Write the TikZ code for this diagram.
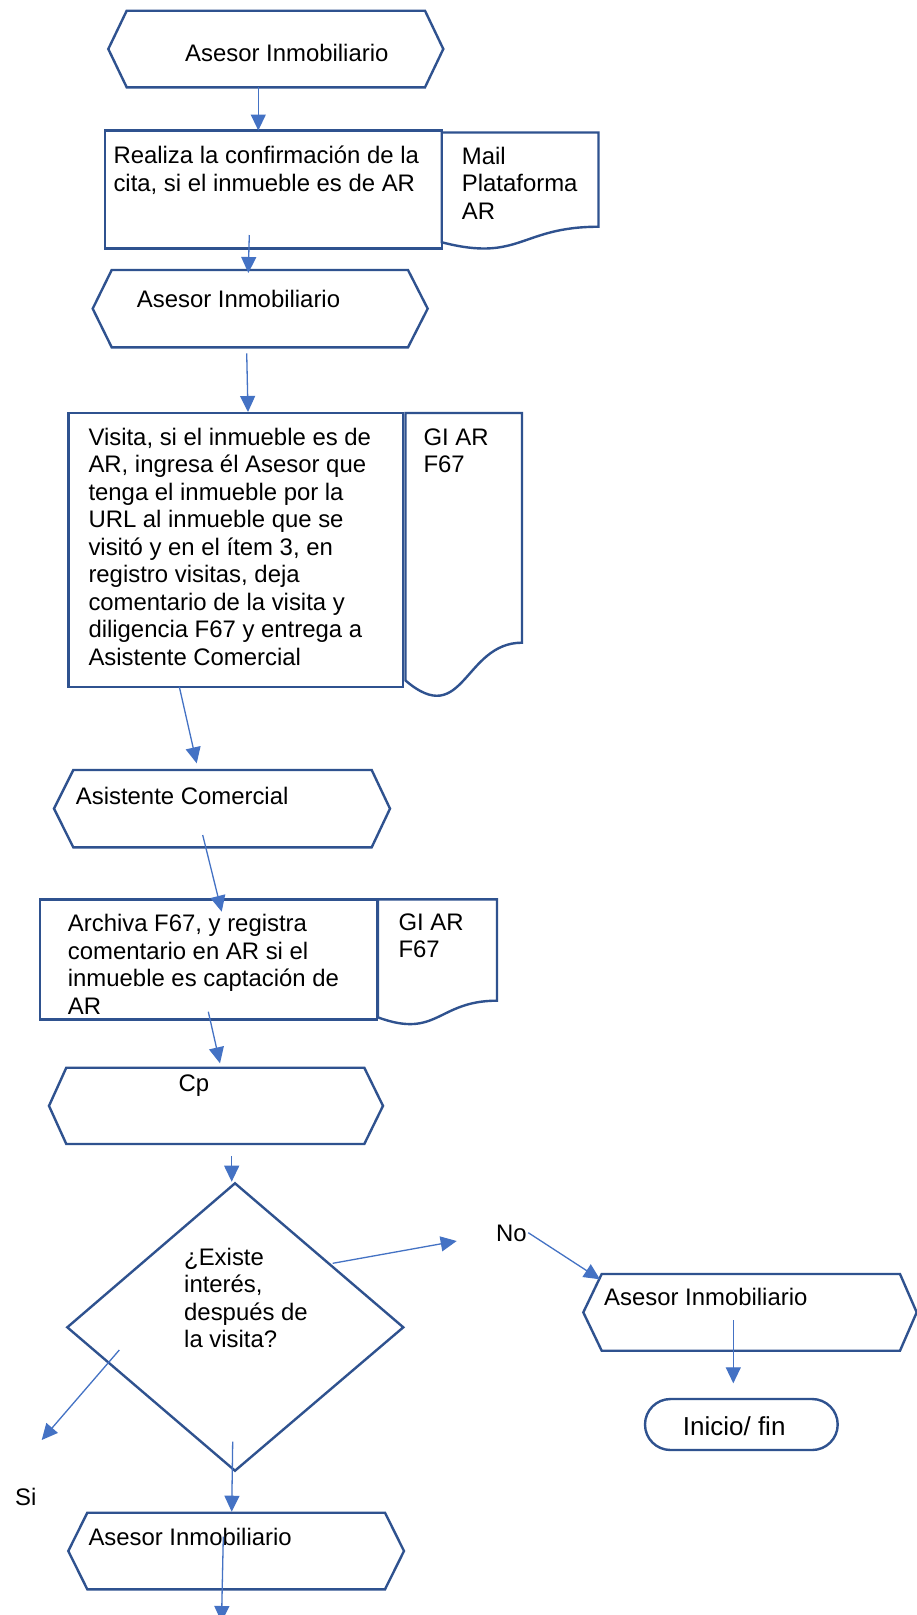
\documentclass[tikz,border=0pt]{standalone}
\usepackage{fontspec}
\setmainfont{Liberation Sans}
\usetikzlibrary{arrows.meta}
\definecolor{shapeblue}{HTML}{2F528F}
\definecolor{arrowblue}{HTML}{4472C4}

% document symbol: left x, right x, top y, nominal height
\newcommand\docshape[4]{%
  \draw[shp] (#1,#3) -- (#2,#3) -- (#2,{#3+0.802*#4})
    .. controls ({(#1+#2)/2},{#3+0.802*#4}) and ({(#1+#2)/2},{#3+1.1075*#4}) ..
    (#1,{#3+0.934*#4}) -- cycle;}
% preparation hexagon: left tip, left corner, right corner, right tip, top, bottom
\newcommand\hexshape[6]{%
  \draw[shp] (#1,{(#5+#6)/2}) -- (#2,#5) -- (#3,#5) -- (#4,{(#5+#6)/2})
    -- (#3,#6) -- (#2,#6) -- cycle;}
% left-aligned lines, baseline on the first line
\newcommand\txtlines[1]{\vtop{\halign{##\hfil\cr#1\crcr}}}

\begin{document}
\begin{tikzpicture}[x=1pt,y=-1pt,line join=miter,
  shp/.style={draw=shapeblue,line width=2.4pt},
  arr/.style={draw=arrowblue,line width=1.3pt,-{Triangle[length=16pt,width=15pt]}},
  lbl/.style={anchor=base west,inner sep=0pt,font=\fontsize{23.9}{27.5}\selectfont}]

\fill[white] (0,0) rectangle (917,1615);
\useasboundingbox (0,0) rectangle (917,1615);

% ---- shapes ----
\hexshape{108.3}{126.7}{425}{443.3}{10.7}{87.3}
\draw[shp] (105,130.5) rectangle (441.7,248.5);
\docshape{441.7}{598.5}{132.5}{117.5}
\hexshape{92.7}{111.7}{408}{427.7}{270}{347.3}
\draw[shp] (68.5,413) rectangle (402.7,687);
\docshape{405.5}{522}{413}{286.4}
\hexshape{54}{73.3}{371.7}{390}{770}{847.3}
\draw[shp] (40,899.3) rectangle (376.7,1019.3);
\docshape{378}{497}{899.3}{126.4}
\hexshape{49}{66.3}{364.3}{383}{1067.7}{1144}
\draw[shp] (235,1183.3) -- (403.3,1327.3) -- (235,1470.7) -- (67.3,1327.3) -- cycle;
\hexshape{583.3}{601.7}{900}{916.7}{1274}{1350.7}
\draw[shp,rounded corners=25.5pt] (645,1399) rectangle (837.7,1450);
\hexshape{68.3}{87.3}{385}{404}{1512.7}{1589.3}

% ---- texts ----
\node[lbl] (tA1) at (185,61) {Asesor Inmobiliario};
\node[lbl] (tR) at (113.3,163.5) {\txtlines{Realiza la confirmación de la\cr cita, si el inmueble es de AR}};
\node[lbl] (tM) at (461.7,164) {\txtlines{Mail\cr Plataforma\cr AR}};
\node[lbl] (tA2) at (136.7,307.7) {Asesor Inmobiliario};
\node[lbl] (tV) at (88.3,445) {\txtlines{Visita, si el inmueble es de\cr AR, ingresa él Asesor que\cr tenga el inmueble por la\cr URL al inmueble que se\cr visitó y en el ítem 3, en\cr registro visitas, deja\cr comentario de la visita y\cr diligencia F67 y entrega a\cr Asistente Comercial}};
\node[lbl] (tG1) at (423.3,445) {\txtlines{GI AR\cr F67}};
\node[lbl] (tAC) at (75.7,804) {Asistente Comercial};
\node[lbl] (tF) at (67.7,931.7) {\txtlines{Archiva F67, y registra\cr comentario en AR si el\cr inmueble es captación de\cr AR}};
\node[lbl] (tG2) at (398.3,930) {\txtlines{GI AR\cr F67}};
\node[lbl] (tCp) at (178.3,1091.7) {Cp};
\node[lbl] (tQ) at (184,1265) {\txtlines{¿Existe\cr interés,\cr después de\cr la visita?}};
\node[lbl] (tNo) at (496,1241) {No};
\node[lbl] (tA3) at (604,1305) {Asesor Inmobiliario};
\node[lbl,font=\fontsize{26}{30}\selectfont] (tFin) at (682.7,1435) {Inicio/ fin};
\node[lbl] (tSi) at (15,1505) {Si};
\node[lbl] (tA4) at (88.3,1545) {Asesor Inmobiliario};

% ---- connector ends ----
\coordinate (a1s) at (258.3,87.3);   \coordinate (a1e) at (258.3,130.5);
\coordinate (a2s) at (249.3,235);    \coordinate (a2e) at (248.3,273);
\coordinate (a3s) at (246.7,353.3);  \coordinate (a3e) at (248,412);
\coordinate (a4s) at (179.3,686.7);  \coordinate (a4e) at (196.7,763.3);
\coordinate (a5s) at (202.7,835);    \coordinate (a5e) at (221.7,911.7);
\coordinate (a6s) at (208.3,1011.7); \coordinate (a6e) at (220,1063.3);
\coordinate (a7s) at (231.7,1156);   \coordinate (a7e) at (231.7,1181.7);
\coordinate (nos) at (332.7,1263.3); \coordinate (noe) at (456.7,1241);
\coordinate (n2s) at (528.3,1232.7); \coordinate (n2e) at (600,1279.3);
\coordinate (fns) at (733.3,1320);   \coordinate (fne) at (733.3,1383.3);
\coordinate (sis) at (119.3,1350);   \coordinate (sie) at (41.7,1440);
\coordinate (dws) at (232.7,1441.7); \coordinate (dwe) at (231.7,1511.7);
\coordinate (ens) at (223.3,1536.7); \coordinate (ene) at (221.5,1622);

% ---- connectors ----
\draw[arr] (a1s) -- (a1e);
\draw[arr] (a2s) -- (a2e);
\draw[arr] (a3s) -- (a3e);
\draw[arr] (a4s) -- (a4e);
\draw[arr] (a5s) -- (a5e);
\draw[arr] (a6s) -- (a6e);
\draw[arr] (a7s) -- (a7e);
\draw[arr] (nos) -- (noe);
\draw[arr] (n2s) -- (n2e);
\draw[arr] (fns) -- (fne);
\draw[arr] (sis) -- (sie);
\draw[arr] (dws) -- (dwe);
\draw[arr] (ens) -- (ene);
\end{tikzpicture}
\end{document}
